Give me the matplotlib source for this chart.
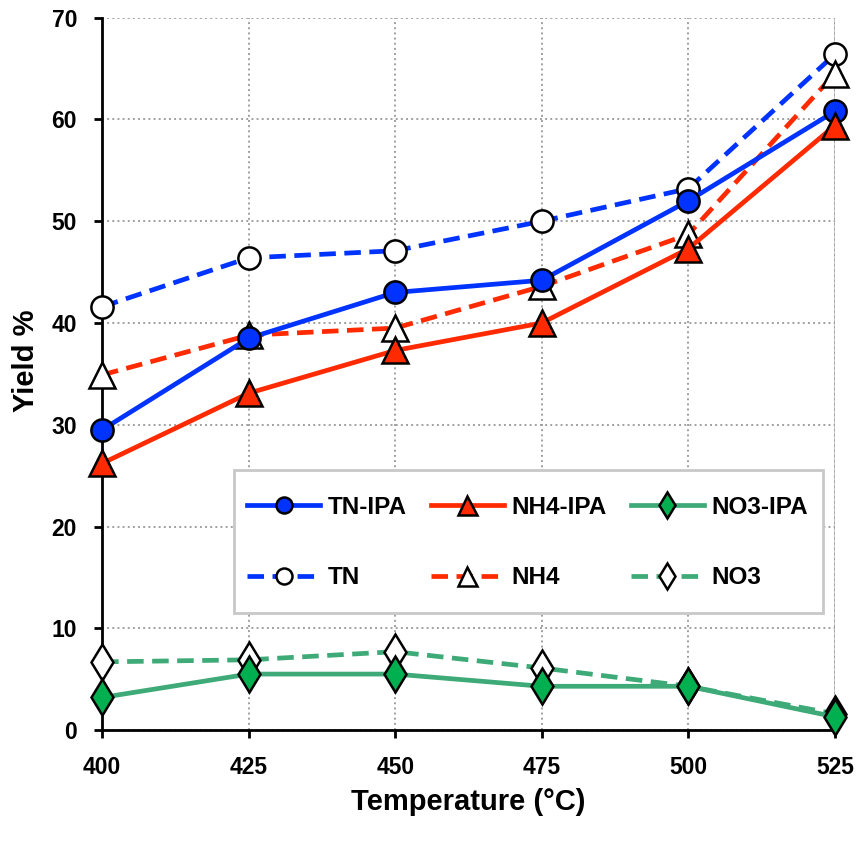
import matplotlib
matplotlib.use("Agg")
import matplotlib.pyplot as plt
from matplotlib.patches import Rectangle

plt.rcParams['font.family'] = ['Liberation Sans', 'DejaVu Sans']
plt.rcParams['font.weight'] = 'bold'

temps = [400, 425, 450, 475, 500, 525]
tn_ipa = [29.5, 38.5, 43.0, 44.2, 52.0, 60.8]
nh4_ipa = [26.2, 33.1, 37.3, 40.0, 47.3, 59.4]
no3_ipa = [3.2, 5.5, 5.5, 4.3, 4.3, 1.3]
tn = [41.6, 46.4, 47.1, 50.0, 53.2, 66.4]
nh4 = [34.9, 38.8, 39.5, 43.6, 48.7, 64.5]
no3 = [6.7, 6.9, 7.7, 6.1, 4.3, 1.6]

blue = '#0033FF'
red = '#FF2A00'
green = '#3DAA77'
green_fill = '#00B050'

fig = plt.figure(figsize=(8.58, 8.43), dpi=100)
ax = fig.add_axes([0.119, 0.134, 0.854, 0.845])

lw = 3.4
mew = 1.8
common = dict(clip_on=False, markeredgecolor='black', markeredgewidth=mew)

# dashed series first (behind)
l_tn, = ax.plot(temps, tn, '--', color=blue, lw=lw, marker='o', ms=16,
                markerfacecolor='white', label='TN', zorder=3, dashes=(3.5, 1.8), **common)
l_nh4, = ax.plot(temps, nh4, '--', color=red, lw=lw, marker='^', ms=19,
                 markerfacecolor='white', label='NH4', zorder=3, dashes=(3.5, 1.8), **common)
l_no3, = ax.plot(temps, no3, '--', color=green, lw=lw, marker='d', ms=18,
                 markerfacecolor='white', label='NO3', zorder=3, dashes=(3.5, 1.8), **common)
l_tni, = ax.plot(temps, tn_ipa, '-', color=blue, lw=lw, marker='o', ms=16,
                 markerfacecolor=blue, label='TN-IPA', zorder=4, **common)
l_nh4i, = ax.plot(temps, nh4_ipa, '-', color=red, lw=lw, marker='^', ms=19,
                  markerfacecolor=red, label='NH4-IPA', zorder=4, **common)
l_no3i, = ax.plot(temps, no3_ipa, '-', color=green, lw=lw, marker='d', ms=18,
                  markerfacecolor=green_fill, label='NO3-IPA', zorder=4, **common)

ax.set_xlim(400, 525)
ax.set_ylim(0, 70)
ax.set_xticks(temps)
ax.set_yticks(range(0, 71, 10))
ax.tick_params(axis='both', labelsize=16.5, direction='out', length=6, width=2)
ax.tick_params(axis='x', pad=13)
ax.tick_params(axis='y', pad=12)
for lab in ax.get_xticklabels() + ax.get_yticklabels():
    lab.set_fontweight('bold')

ax.grid(True, linestyle=':', color='#A0A0A0', lw=1.4)
ax.set_axisbelow(True)
for s in ['top', 'right']:
    ax.spines[s].set_visible(False)
for s in ['left', 'bottom']:
    ax.spines[s].set_linewidth(2)
ax.axvline(525, color='#C8C8C8', lw=1.5, zorder=0)

ax.set_xlabel('Temperature (°C)', fontsize=21, fontweight='bold', labelpad=6)
ax.set_ylabel('Yield %', fontsize=21, fontweight='bold')
ax.yaxis.set_label_coords(-0.085, 0.518)

# legend frame
ax.add_patch(Rectangle((0.180, 0.164), 0.804, 0.201, transform=ax.transAxes,
                       facecolor='white', edgecolor='#C8C8C8', lw=2, zorder=5))

handles = [l_tni, l_tn, l_nh4i, l_nh4, l_no3i, l_no3]
leg = ax.legend(handles=handles, ncol=3, loc='center',
                bbox_to_anchor=(0.198, 0.263, 0.765, 0.0), mode='expand',
                borderaxespad=0, borderpad=0,
                fontsize=17.5, frameon=False, handlelength=3.0,
                markerscale=0.72, labelspacing=1.95,
                columnspacing=0.8, handletextpad=0.3)
leg.set_zorder(6)
for t in leg.get_texts():
    t.set_fontweight('bold')

fig.savefig('out.png', dpi=100)
